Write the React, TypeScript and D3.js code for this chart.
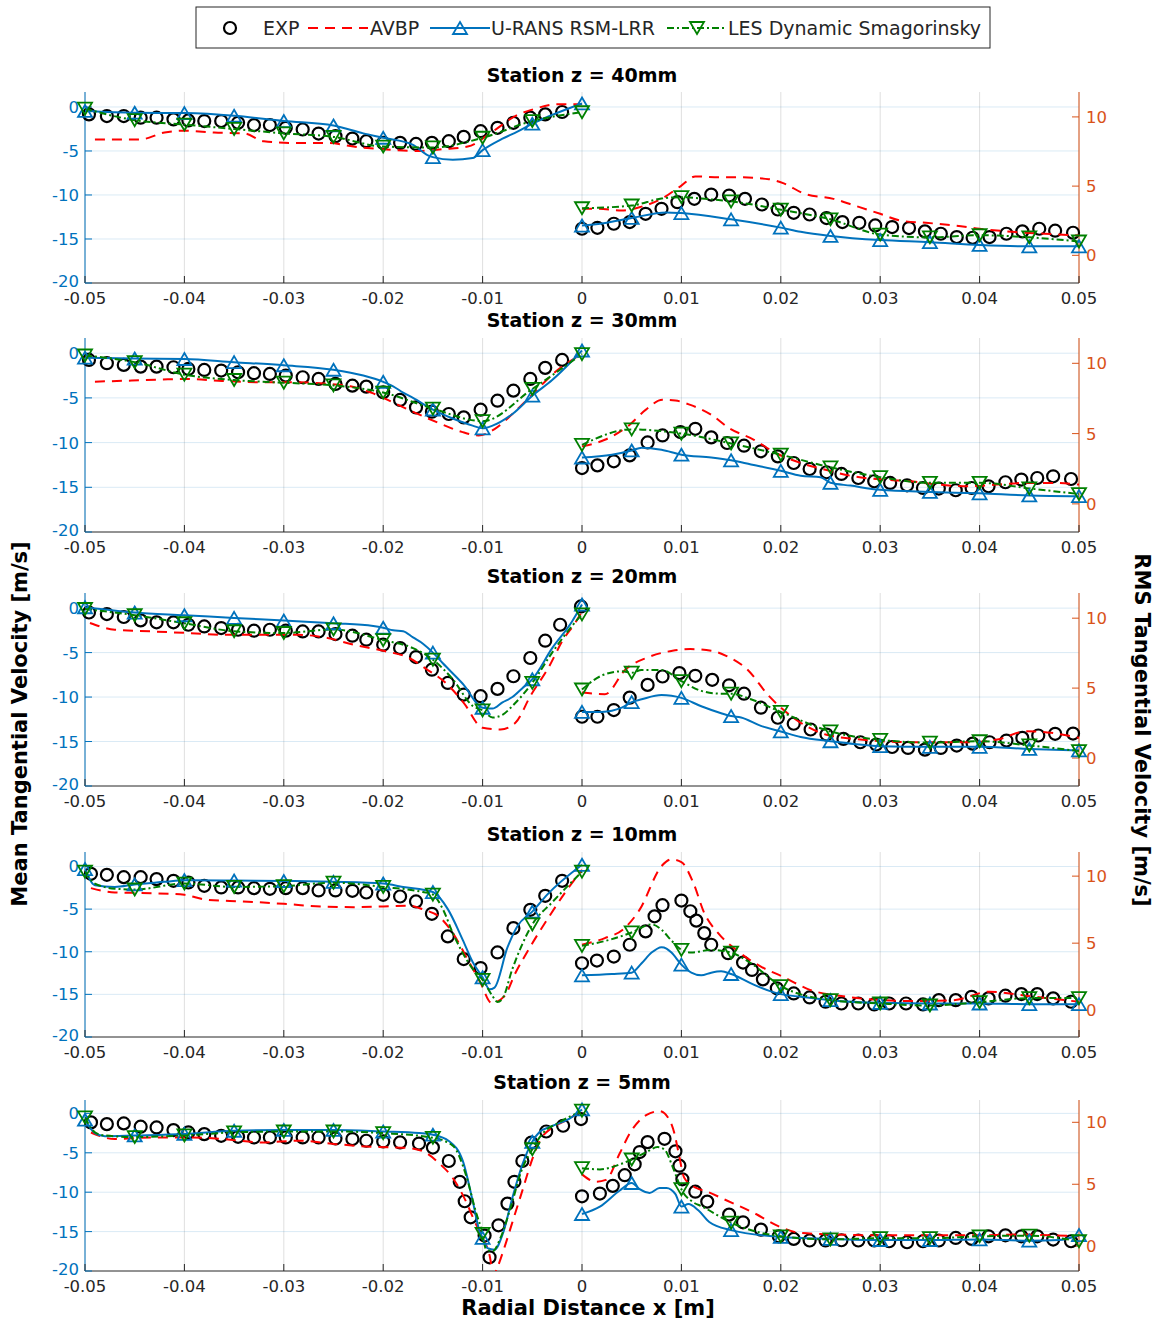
import React from 'react';
import * as d3 from 'd3';

type P = [number, number];

// ---------- ticks / labels ----------
const X_TICKS = [-0.05, -0.04, -0.03, -0.02, -0.01, 0, 0.01, 0.02, 0.03, 0.04, 0.05];
const LEFT_TICKS = [0, -5, -10, -15, -20];
const RIGHT_TICKS = [0, 5, 10];
const STATIONS = ['Station z = 40mm', 'Station z = 30mm', 'Station z = 20mm', 'Station z = 10mm', 'Station z = 5mm'];
const SERIES_NAMES = ['EXP', 'AVBP', 'U-RANS RSM-LRR', 'LES Dynamic Smagorinsky'];

// ---------- Station z = 40mm ----------
const Z40_EXP_MEAN: P[] = [[-0.0496,-0.84],[-0.0478,-1.03],[-0.0461,-1.03],[-0.0444,-1.22],[-0.0428,-1.22],[-0.0411,-1.41],[-0.0396,-1.53],[-0.038,-1.6],[-0.0363,-1.6],[-0.0346,-1.8],[-0.033,-2.06],[-0.0314,-2.06],[-0.0298,-2.37],[-0.0281,-2.56],[-0.0265,-3.02],[-0.0248,-3.32],[-0.0231,-3.59],[-0.0217,-3.89],[-0.02,-4.08],[-0.0183,-4.08],[-0.0167,-4.2],[-0.0151,-4.08],[-0.0134,-3.89],[-0.0119,-3.4],[-0.0102,-2.75],[-0.0085,-2.37],[-0.0069,-1.8],[-0.0052,-1.22],[-0.0037,-0.84],[-0.002,-0.57]];
const Z40_EXP_RMS: P[] = [[0,1.92],[0.00155,1.99],[0.0032,2.28],[0.0048,2.4],[0.0064,3.0],[0.008,3.36],[0.0096,3.84],[0.0113,4.08],[0.013,4.39],[0.0148,4.32],[0.0164,4.08],[0.0181,3.67],[0.0197,3.31],[0.0213,3.07],[0.0229,2.95],[0.0246,2.69],[0.0262,2.4],[0.0279,2.35],[0.0295,2.16],[0.0312,2.04],[0.0329,1.97],[0.0345,1.73],[0.0361,1.56],[0.0377,1.32],[0.0393,1.27],[0.041,1.32],[0.0427,1.56],[0.0443,1.73],[0.046,1.92],[0.0476,1.78],[0.0494,1.63]];
const Z40_AVBP_MEAN: P[] = [[-0.049,-3.7],[-0.0445,-3.7],[-0.042,-2.9],[-0.04,-2.7],[-0.037,-2.9],[-0.034,-3.0],[-0.032,-3.9],[-0.029,-4.1],[-0.0255,-4.1],[-0.023,-4.5],[-0.02,-4.8],[-0.0165,-5.0],[-0.014,-4.8],[-0.0115,-4.5],[-0.009,-2.8],[-0.0065,-0.9],[-0.005,-0.3],[-0.0025,0.3],[0,0.3]];
const Z40_AVBP_RMS: P[] = [[0,3.36],[0.0015,3.36],[0.004,3.24],[0.0059,3.5],[0.008,4.08],[0.01,5.04],[0.0114,5.7],[0.0138,5.64],[0.0159,5.64],[0.0188,5.5],[0.0203,5.2],[0.0224,4.44],[0.0253,4.08],[0.0274,3.6],[0.03,3.0],[0.0321,2.5],[0.0346,2.35],[0.0375,2.16],[0.04,1.92],[0.0436,1.68],[0.0465,1.56],[0.05,1.44]];
const Z40_URANS_MEAN: P[] = [[-0.05,-0.45],[-0.045,-0.65],[-0.04,-0.7],[-0.035,-1.0],[-0.03,-1.6],[-0.025,-2.1],[-0.022,-3.0],[-0.02,-3.5],[-0.017,-4.3],[-0.0155,-5.5],[-0.015,-5.7],[-0.013,-6.0],[-0.011,-5.8],[-0.01,-4.9],[-0.008,-3.6],[-0.0065,-2.8],[-0.005,-1.9],[-0.003,-0.9],[0,0.4]];
const Z40_URANS_RMS: P[] = [[0,2.15],[0.002,2.3],[0.005,2.7],[0.0085,3.1],[0.01,3.05],[0.015,2.6],[0.02,2.0],[0.022,1.7],[0.025,1.4],[0.03,1.1],[0.035,0.95],[0.04,0.75],[0.045,0.65],[0.05,0.65]];
const Z40_LES_MEAN: P[] = [[-0.05,-0.2],[-0.045,-1.5],[-0.04,-2.0],[-0.035,-2.5],[-0.03,-3.0],[-0.025,-3.4],[-0.02,-4.5],[-0.015,-4.6],[-0.01,-3.5],[-0.005,-1.6],[0,-0.6]];
const Z40_LES_RMS: P[] = [[0,3.4],[0.005,3.6],[0.008,4.1],[0.01,4.2],[0.012,4.1],[0.015,3.9],[0.02,3.3],[0.025,2.6],[0.03,1.5],[0.035,1.3],[0.04,1.45],[0.045,1.3],[0.05,1.0]];

// ---------- Station z = 30mm ----------
const Z30_EXP_MEAN: P[] = [[-0.0496,-0.75],[-0.0478,-1.12],[-0.0461,-1.31],[-0.0444,-1.5],[-0.0428,-1.5],[-0.0411,-1.57],[-0.0396,-1.76],[-0.038,-1.87],[-0.0363,-1.94],[-0.0346,-2.13],[-0.033,-2.24],[-0.0314,-2.32],[-0.0298,-2.5],[-0.0281,-2.69],[-0.0265,-2.88],[-0.0248,-3.44],[-0.0231,-3.63],[-0.0217,-3.74],[-0.02,-4.37],[-0.0183,-5.23],[-0.0167,-6.06],[-0.0151,-6.54],[-0.0134,-6.8],[-0.0119,-7.18],[-0.0102,-6.32],[-0.0085,-5.31],[-0.0069,-4.19],[-0.0052,-2.88],[-0.0037,-1.64],[-0.002,-0.75]];
const Z30_EXP_RMS: P[] = [[0,2.55],[0.00155,2.74],[0.0032,3.03],[0.0048,3.45],[0.0066,4.37],[0.0081,4.87],[0.0099,5.11],[0.0114,5.34],[0.013,4.73],[0.0146,4.33],[0.0163,4.14],[0.018,3.74],[0.0197,3.38],[0.0213,2.91],[0.0229,2.48],[0.0246,2.25],[0.0261,2.13],[0.0278,1.84],[0.0294,1.61],[0.031,1.49],[0.0327,1.32],[0.0343,1.13],[0.0359,1.09],[0.0376,0.97],[0.0392,1.13],[0.0409,1.25],[0.0426,1.54],[0.0442,1.73],[0.0458,1.84],[0.0474,1.96],[0.0492,1.77]];
const Z30_AVBP_MEAN: P[] = [[-0.049,-3.18],[-0.0453,-3.06],[-0.0424,-2.95],[-0.0399,-2.88],[-0.0362,-3.1],[-0.0325,-3.25],[-0.0288,-3.25],[-0.0259,-3.4],[-0.0233,-3.7],[-0.021,-4.5],[-0.0196,-5.2],[-0.0177,-6.2],[-0.0159,-7.1],[-0.014,-8.0],[-0.0121,-8.8],[-0.0104,-9.2],[-0.0088,-8.5],[-0.007,-6.8],[-0.0051,-4.75],[-0.0029,-2.3],[0,-0.07]];
const Z30_AVBP_RMS: P[] = [[0,4.09],[0.0023,4.56],[0.0048,5.63],[0.0064,6.69],[0.0081,7.4],[0.0094,7.35],[0.0109,7.04],[0.013,6.34],[0.0148,5.39],[0.0173,4.56],[0.0195,3.62],[0.022,2.91],[0.0245,2.43],[0.0273,1.96],[0.0302,1.73],[0.033,1.61],[0.0359,1.37],[0.0388,1.25],[0.0417,1.37],[0.0446,1.49],[0.0474,1.49],[0.05,1.37]];
const Z30_URANS_MEAN: P[] = [[-0.05,-0.5],[-0.045,-0.6],[-0.04,-0.65],[-0.035,-1.0],[-0.03,-1.35],[-0.025,-1.85],[-0.022,-2.5],[-0.02,-3.2],[-0.019,-3.7],[-0.018,-4.4],[-0.017,-5.0],[-0.015,-6.3],[-0.013,-7.3],[-0.011,-8.1],[-0.01,-8.4],[-0.009,-8.1],[-0.007,-6.8],[-0.005,-4.75],[-0.003,-3.0],[0,0.3]];
const Z30_URANS_RMS: P[] = [[0,3.3],[0.003,3.5],[0.005,3.8],[0.006,4.0],[0.008,3.85],[0.01,3.5],[0.013,3.3],[0.015,3.1],[0.017,2.8],[0.02,2.35],[0.022,2.0],[0.024,1.9],[0.025,1.5],[0.027,1.3],[0.03,1.0],[0.035,0.85],[0.04,0.75],[0.045,0.6],[0.05,0.55]];
const Z30_LES_MEAN: P[] = [[-0.05,-0.26],[-0.045,-1.0],[-0.04,-2.4],[-0.035,-3.0],[-0.03,-3.3],[-0.025,-3.6],[-0.02,-4.4],[-0.015,-6.2],[-0.01,-7.6],[-0.005,-4.0],[0,-0.1]];
const Z30_LES_RMS: P[] = [[0,4.2],[0.005,5.3],[0.01,5.0],[0.015,4.3],[0.02,3.5],[0.025,2.6],[0.03,1.9],[0.035,1.5],[0.04,1.5],[0.045,1.1],[0.05,0.7]];

// ---------- Station z = 20mm ----------
const Z20_EXP_MEAN: P[] = [[-0.0496,-0.49],[-0.0478,-0.67],[-0.0461,-1.0],[-0.0444,-1.38],[-0.0428,-1.6],[-0.0411,-1.6],[-0.0396,-1.87],[-0.038,-2.06],[-0.0363,-2.24],[-0.0346,-2.43],[-0.033,-2.54],[-0.0314,-2.43],[-0.0298,-2.54],[-0.0281,-2.62],[-0.0265,-2.62],[-0.0248,-2.92],[-0.0231,-3.1],[-0.0217,-3.55],[-0.02,-4.11],[-0.0183,-4.49],[-0.0167,-5.5],[-0.0151,-6.92],[-0.0135,-8.41],[-0.0119,-9.72],[-0.0102,-9.9],[-0.0085,-9.08],[-0.0069,-7.66],[-0.0052,-5.61],[-0.0037,-3.66],[-0.0022,-1.87],[-0.0001,0.19]];
const Z20_EXP_RMS: P[] = [[0,2.95],[0.00155,2.95],[0.0032,3.43],[0.0048,4.32],[0.0066,5.23],[0.0081,5.83],[0.0098,6.07],[0.0114,5.88],[0.0131,5.59],[0.0148,5.2],[0.0163,4.6],[0.018,3.6],[0.0197,2.88],[0.0213,2.45],[0.023,2.04],[0.0246,1.68],[0.0263,1.37],[0.028,1.13],[0.0296,0.96],[0.0312,0.79],[0.0328,0.72],[0.0345,0.6],[0.0361,0.72],[0.0377,0.89],[0.0393,1.03],[0.041,1.13],[0.0427,1.25],[0.0443,1.44],[0.0459,1.61],[0.0476,1.73],[0.0494,1.75]];
const Z20_AVBP_MEAN: P[] = [[-0.0495,-1.68],[-0.047,-2.43],[-0.0433,-2.62],[-0.0396,-2.8],[-0.036,-3.0],[-0.0322,-3.0],[-0.0285,-3.0],[-0.0256,-3.36],[-0.023,-4.1],[-0.02,-4.8],[-0.0174,-5.6],[-0.0156,-6.9],[-0.0137,-8.41],[-0.0119,-10.65],[-0.01,-13.46],[-0.0082,-13.64],[-0.0067,-12.9],[-0.0052,-9.9],[-0.0033,-6.54],[-0.0019,-3.55],[-0.0007,-1.68],[0,-0.37]];
const Z20_AVBP_RMS: P[] = [[0,4.68],[0.0023,4.56],[0.0044,6.35],[0.0066,7.19],[0.0091,7.67],[0.0109,7.79],[0.013,7.67],[0.0145,7.31],[0.0166,6.35],[0.0188,4.44],[0.0202,3.48],[0.022,2.52],[0.0245,1.68],[0.0274,1.37],[0.0302,1.2],[0.0332,1.13],[0.0361,1.13],[0.039,1.13],[0.0418,1.32],[0.0447,1.92],[0.0472,1.8],[0.05,1.44]];
const Z20_URANS_MEAN: P[] = [[-0.05,0.1],[-0.045,-0.5],[-0.04,-0.8],[-0.035,-1.1],[-0.03,-1.4],[-0.025,-1.7],[-0.021,-2.0],[-0.02,-2.2],[-0.019,-2.5],[-0.018,-2.6],[-0.017,-3.3],[-0.016,-4.0],[-0.015,-5.0],[-0.014,-6.2],[-0.012,-8.5],[-0.01,-11.2],[-0.009,-11.3],[-0.008,-10.6],[-0.007,-10.0],[-0.006,-9.0],[-0.005,-8.0],[-0.003,-4.5],[-0.001,-1.5],[0,0.4]];
const Z20_URANS_RMS: P[] = [[0,3.3],[0.002,3.3],[0.004,3.6],[0.005,4.0],[0.006,4.2],[0.008,4.5],[0.009,4.45],[0.01,4.3],[0.012,3.7],[0.014,3.2],[0.015,3.0],[0.016,2.9],[0.018,2.3],[0.02,1.9],[0.022,1.5],[0.025,1.2],[0.03,0.85],[0.035,0.8],[0.04,0.8],[0.045,0.65],[0.05,0.55]];
const Z20_LES_MEAN: P[] = [[-0.05,-0.1],[-0.045,-0.8],[-0.04,-1.7],[-0.035,-2.6],[-0.03,-2.8],[-0.025,-2.4],[-0.02,-3.6],[-0.017,-4.5],[-0.015,-5.8],[-0.013,-8.0],[-0.011,-11.0],[-0.01,-11.5],[-0.009,-12.3],[-0.008,-12.0],[-0.007,-11.0],[-0.005,-8.4],[-0.003,-5.0],[-0.001,-2.0],[0,-0.7]];
const Z20_LES_RMS: P[] = [[0,4.9],[0.002,5.9],[0.004,6.2],[0.005,6.1],[0.006,6.3],[0.008,6.3],[0.01,5.5],[0.012,4.8],[0.014,4.6],[0.015,4.6],[0.017,4.2],[0.02,3.3],[0.025,1.9],[0.03,1.3],[0.035,1.1],[0.04,1.2],[0.045,0.9],[0.05,0.5]];

// ---------- Station z = 10mm ----------
const Z10_EXP_MEAN: P[] = [[-0.0494,-0.86],[-0.0478,-0.98],[-0.0461,-1.25],[-0.0444,-1.25],[-0.0428,-1.48],[-0.0411,-1.68],[-0.0396,-1.88],[-0.038,-2.27],[-0.0363,-2.46],[-0.0346,-2.46],[-0.033,-2.54],[-0.0314,-2.62],[-0.0298,-2.54],[-0.0281,-2.54],[-0.0265,-2.81],[-0.0248,-2.81],[-0.0231,-2.85],[-0.0217,-3.05],[-0.02,-3.32],[-0.0183,-3.52],[-0.0167,-4.1],[-0.0151,-5.55],[-0.0135,-8.2],[-0.0119,-10.86],[-0.0102,-11.91],[-0.0085,-10.08],[-0.0069,-7.23],[-0.0052,-5.08],[-0.0037,-3.44],[-0.002,-1.68]];
const Z10_EXP_RMS: P[] = [[0,3.5],[0.0015,3.7],[0.0032,4.0],[0.0048,4.88],[0.0064,5.88],[0.0073,7.0],[0.0081,7.83],[0.01,8.18],[0.0109,7.38],[0.0115,6.68],[0.0123,5.75],[0.013,4.88],[0.0147,4.25],[0.0162,3.55],[0.0171,3.0],[0.0182,2.3],[0.0196,1.63],[0.0213,1.25],[0.0229,0.95],[0.0245,0.63],[0.0261,0.5],[0.0278,0.5],[0.0294,0.43],[0.0309,0.5],[0.0326,0.5],[0.0343,0.43],[0.0359,0.75],[0.0376,0.75],[0.0392,1.0],[0.0409,0.88],[0.0426,1.08],[0.0442,1.2],[0.0458,1.2],[0.0474,0.88],[0.0492,0.63]];
const Z10_AVBP_MEAN: P[] = [[-0.0494,-2.54],[-0.047,-3.05],[-0.0433,-3.13],[-0.04,-3.32],[-0.0378,-3.9],[-0.0341,-4.1],[-0.03,-4.38],[-0.0263,-4.69],[-0.023,-4.77],[-0.02,-4.69],[-0.0174,-4.6],[-0.0159,-5.08],[-0.0144,-5.86],[-0.013,-7.8],[-0.0115,-10.9],[-0.0102,-13.67],[-0.0091,-16.0],[-0.0078,-15.2],[-0.0067,-12.5],[-0.0052,-9.4],[-0.0033,-5.86],[-0.0015,-2.73],[0,-0.39]];
const Z10_AVBP_RMS: P[] = [[0,4.88],[0.0023,5.38],[0.0041,6.0],[0.0058,7.5],[0.008,10.75],[0.009,11.25],[0.01,11.05],[0.0112,9.5],[0.0123,7.25],[0.0137,5.75],[0.0155,4.5],[0.018,3.25],[0.0202,2.5],[0.023,1.5],[0.0266,1.0],[0.0302,0.75],[0.0338,0.68],[0.0374,0.75],[0.041,1.38],[0.0446,1.08],[0.05,0.63]];
const Z10_URANS_MEAN: P[] = [[-0.05,-0.3],[-0.049,-2.2],[-0.047,-2.4],[-0.045,-2.1],[-0.042,-1.8],[-0.04,-1.6],[-0.035,-1.65],[-0.03,-1.7],[-0.025,-1.8],[-0.02,-2.0],[-0.018,-2.4],[-0.015,-3.0],[-0.0135,-5.0],[-0.012,-8.6],[-0.011,-11.2],[-0.01,-13.0],[-0.0093,-14.4],[-0.0088,-14.2],[-0.0075,-9.5],[-0.0065,-7.0],[-0.005,-5.3],[-0.0035,-3.3],[0,0.2]];
const Z10_URANS_RMS: P[] = [[0,2.6],[0.003,2.7],[0.005,2.8],[0.006,3.5],[0.007,4.3],[0.008,4.7],[0.0085,4.6],[0.009,4.3],[0.01,3.4],[0.011,2.8],[0.012,2.6],[0.013,2.8],[0.014,2.9],[0.015,2.7],[0.017,2.0],[0.019,1.4],[0.02,1.2],[0.022,1.0],[0.025,0.75],[0.03,0.55],[0.035,0.5],[0.04,0.5],[0.045,0.45],[0.05,0.45]];
const Z10_LES_MEAN: P[] = [[-0.05,-0.6],[-0.049,-2.0],[-0.047,-2.6],[-0.045,-2.7],[-0.04,-2.0],[-0.035,-2.4],[-0.03,-2.3],[-0.025,-1.9],[-0.02,-2.4],[-0.016,-3.0],[-0.015,-3.3],[-0.014,-5.0],[-0.013,-7.8],[-0.011,-12.0],[-0.01,-13.3],[-0.009,-15.2],[-0.0085,-15.9],[-0.008,-15.5],[-0.007,-12.0],[-0.005,-6.8],[-0.003,-4.2],[0,-0.6]];
const Z10_LES_RMS: P[] = [[0,4.8],[0.003,5.3],[0.005,5.8],[0.007,6.4],[0.008,6.0],[0.009,5.2],[0.01,4.5],[0.011,4.3],[0.013,4.5],[0.015,4.3],[0.017,3.5],[0.02,1.8],[0.025,0.75],[0.03,0.5],[0.035,0.35],[0.04,0.6],[0.045,0.9],[0.05,0.9]];

// ---------- Station z = 5mm ----------
const Z5_EXP_MEAN: P[] = [[-0.0494,-1.14],[-0.0478,-1.36],[-0.0461,-1.27],[-0.0444,-1.69],[-0.0428,-1.78],[-0.0411,-2.12],[-0.0396,-2.42],[-0.038,-2.63],[-0.0363,-2.84],[-0.0346,-2.97],[-0.033,-3.05],[-0.0314,-3.05],[-0.0298,-3.05],[-0.0281,-3.05],[-0.0265,-3.05],[-0.0248,-3.18],[-0.0231,-3.26],[-0.0217,-3.47],[-0.02,-3.56],[-0.0183,-3.69],[-0.0164,-3.83],[-0.015,-4.34],[-0.0134,-6.04],[-0.0123,-8.68],[-0.0118,-11.15],[-0.0112,-13.19],[-0.0098,-15.5],[-0.0093,-18.26],[-0.0084,-14.2],[-0.0075,-11.45],[-0.0068,-8.68],[-0.006,-6.04],[-0.0051,-3.7],[-0.0036,-2.3],[-0.0019,-1.57],[-0.0001,-0.72]];
const Z5_EXP_RMS: P[] = [[0,4.03],[0.0018,4.25],[0.0031,4.87],[0.0043,5.73],[0.0053,6.61],[0.0058,7.6],[0.0066,8.4],[0.0083,8.67],[0.0094,7.66],[0.0098,6.5],[0.0101,5.4],[0.0114,4.4],[0.0126,3.6],[0.0148,2.55],[0.0162,1.93],[0.018,1.34],[0.0198,0.8],[0.0213,0.59],[0.0229,0.46],[0.0245,0.46],[0.0261,0.48],[0.0278,0.46],[0.0294,0.46],[0.0309,0.4],[0.0327,0.32],[0.0343,0.4],[0.0359,0.46],[0.0376,0.67],[0.0392,0.59],[0.0409,0.8],[0.0426,0.88],[0.0442,0.8],[0.0458,0.8],[0.0474,0.54],[0.0492,0.4]];
const Z5_AVBP_MEAN: P[] = [[-0.0494,-2.42],[-0.047,-3.26],[-0.0433,-3.05],[-0.0396,-3.05],[-0.036,-3.26],[-0.0322,-3.69],[-0.0285,-3.47],[-0.0248,-3.9],[-0.0211,-4.24],[-0.0174,-4.4],[-0.0157,-5.0],[-0.0144,-6.3],[-0.013,-8.2],[-0.0117,-11.1],[-0.0108,-13.7],[-0.01,-15.8],[-0.0093,-18.0],[-0.0089,-20.5],[-0.0085,-19.5],[-0.0078,-17.0],[-0.007,-13.8],[-0.006,-9.8],[-0.005,-5.8],[-0.0043,-3.6],[-0.003,-1.8],[-0.0016,-0.9],[0,0.4]];
const Z5_AVBP_RMS: P[] = [[0,5.8],[0.0014,5.2],[0.0024,5.35],[0.0038,7.5],[0.0048,9.1],[0.0065,10.6],[0.0078,10.9],[0.0088,10.2],[0.0093,9.1],[0.0097,7.6],[0.0103,5.5],[0.0115,4.7],[0.0126,4.4],[0.0144,3.75],[0.0173,2.68],[0.0198,1.6],[0.022,1.07],[0.0256,0.94],[0.0292,0.88],[0.0328,0.88],[0.0363,0.88],[0.0399,0.88],[0.0435,0.94],[0.05,0.8]];
const Z5_URANS_MEAN: P[] = [[-0.05,-0.8],[-0.049,-2.5],[-0.048,-2.9],[-0.045,-2.8],[-0.04,-2.6],[-0.035,-2.2],[-0.03,-2.1],[-0.025,-2.1],[-0.02,-2.3],[-0.0164,-2.5],[-0.015,-2.7],[-0.0134,-3.5],[-0.012,-6.0],[-0.011,-11.1],[-0.0103,-15.0],[-0.01,-15.8],[-0.0095,-17.1],[-0.0088,-17.3],[-0.008,-15.4],[-0.007,-10.7],[-0.006,-6.5],[-0.005,-3.6],[-0.0043,-2.4],[-0.003,-1.6],[-0.0013,-0.7],[0,0.5]];
const Z5_URANS_RMS: P[] = [[0,2.6],[0.0018,3.2],[0.0038,4.5],[0.005,5.1],[0.0058,4.6],[0.0068,4.3],[0.0078,4.7],[0.0085,4.7],[0.0094,4.2],[0.01,3.2],[0.0107,3.4],[0.0117,2.9],[0.0128,1.96],[0.015,1.3],[0.02,0.75],[0.025,0.6],[0.03,0.5],[0.035,0.5],[0.04,0.55],[0.045,0.45],[0.048,0.5],[0.05,0.9]];
const Z5_LES_MEAN: P[] = [[-0.05,-0.5],[-0.049,-2.4],[-0.048,-2.8],[-0.045,-3.0],[-0.04,-2.8],[-0.035,-2.4],[-0.03,-2.3],[-0.025,-2.3],[-0.02,-2.5],[-0.015,-3.1],[-0.013,-4.1],[-0.0117,-7.7],[-0.0107,-12.4],[-0.01,-15.3],[-0.0097,-17.1],[-0.009,-17.5],[-0.0082,-15.8],[-0.0071,-11.6],[-0.0061,-7.3],[-0.005,-4.55],[-0.004,-2.6],[-0.0023,-1.15],[0,0.35]];
const Z5_LES_RMS: P[] = [[0,6.3],[0.0018,6.2],[0.0038,6.6],[0.005,7.0],[0.0065,7.6],[0.0076,8.0],[0.0083,7.8],[0.0091,6.45],[0.0096,5.4],[0.01,4.6],[0.0111,3.6],[0.0121,3.2],[0.015,1.9],[0.02,0.8],[0.025,0.55],[0.03,0.65],[0.035,0.65],[0.04,0.8],[0.045,0.85],[0.05,0.4]];

const PANELS = [
  { expMean: Z40_EXP_MEAN, expRms: Z40_EXP_RMS, avbpMean: Z40_AVBP_MEAN, avbpRms: Z40_AVBP_RMS, uransMean: Z40_URANS_MEAN, uransRms: Z40_URANS_RMS, lesMean: Z40_LES_MEAN, lesRms: Z40_LES_RMS },
  { expMean: Z30_EXP_MEAN, expRms: Z30_EXP_RMS, avbpMean: Z30_AVBP_MEAN, avbpRms: Z30_AVBP_RMS, uransMean: Z30_URANS_MEAN, uransRms: Z30_URANS_RMS, lesMean: Z30_LES_MEAN, lesRms: Z30_LES_RMS },
  { expMean: Z20_EXP_MEAN, expRms: Z20_EXP_RMS, avbpMean: Z20_AVBP_MEAN, avbpRms: Z20_AVBP_RMS, uransMean: Z20_URANS_MEAN, uransRms: Z20_URANS_RMS, lesMean: Z20_LES_MEAN, lesRms: Z20_LES_RMS },
  { expMean: Z10_EXP_MEAN, expRms: Z10_EXP_RMS, avbpMean: Z10_AVBP_MEAN, avbpRms: Z10_AVBP_RMS, uransMean: Z10_URANS_MEAN, uransRms: Z10_URANS_RMS, lesMean: Z10_LES_MEAN, lesRms: Z10_LES_RMS },
  { expMean: Z5_EXP_MEAN, expRms: Z5_EXP_RMS, avbpMean: Z5_AVBP_MEAN, avbpRms: Z5_AVBP_RMS, uransMean: Z5_URANS_MEAN, uransRms: Z5_URANS_RMS, lesMean: Z5_LES_MEAN, lesRms: Z5_LES_RMS },
];

// ---------- layout & style ----------
const W = 1157, H = 1319;
const PLOT_L = 85, PLOT_R = 1079;
const BOXES: [number, number][] = [[92, 283], [338, 532], [593, 786], [852, 1037], [1100, 1271]];
const TITLE_Y = [75, 320, 576, 834, 1082];
const LEFT_DOMAIN: [number, number] = [-20, 1.7];
const RIGHT_DOMAIN: [number, number] = [-2, 11.8];
const FONT = 'DejaVu Sans, Verdana, sans-serif';
const C_BLUE = '#0072BD', C_ORANGE = '#D95319', C_RED = '#FF0000', C_GREEN = '#008000', C_TXT = '#262626';
const DASH_AVBP = '10,7';
const DASH_LES = '7,3,2,3';
const TRI_UP = 'M0,-6 L7,6 L-7,6 Z';
const TRI_DOWN = 'M0,6 L7,-6 L-7,-6 Z';

const isMarkerX = (v: number) => Math.abs(v * 200 - Math.round(v * 200)) < 1e-6;
const fmtTick = (v: number) => String(+v.toFixed(2)); // hyphen-minus like the reference

function Panel({ i }: { i: number }) {
  const d = PANELS[i];
  const [top, bottom] = BOXES[i];
  const x = d3.scaleLinear().domain([-0.05, 0.05]).range([PLOT_L, PLOT_R]);
  const yL = d3.scaleLinear().domain(LEFT_DOMAIN).range([bottom, top]);
  const yR = d3.scaleLinear().domain(RIGHT_DOMAIN).range([bottom, top]);
  const lineL = d3.line<P>().x(p => x(p[0])).y(p => yL(p[1])).curve(d3.curveMonotoneX);
  const lineR = d3.line<P>().x(p => x(p[0])).y(p => yR(p[1])).curve(d3.curveMonotoneX);
  const clipId = `clip${i}`;
  return (
    <g>
      <defs>
        <clipPath id={clipId}>
          <rect x={PLOT_L} y={top} width={PLOT_R - PLOT_L} height={bottom - top} />
        </clipPath>
      </defs>
      {/* grid */}
      {X_TICKS.map(t => (
        <line key={'vg' + t} x1={x(t)} x2={x(t)} y1={top} y2={bottom} stroke={C_TXT} strokeOpacity={0.15} strokeWidth={1} />
      ))}
      {LEFT_TICKS.filter(t => t > -20).map(t => (
        <line key={'hg' + t} x1={PLOT_L} x2={PLOT_R} y1={yL(t)} y2={yL(t)} stroke={C_BLUE} strokeOpacity={0.15} strokeWidth={1} />
      ))}
      {/* axes */}
      <line x1={PLOT_L} x2={PLOT_R} y1={bottom} y2={bottom} stroke={C_TXT} strokeWidth={1} />
      <line x1={PLOT_L} x2={PLOT_L} y1={top} y2={bottom} stroke={C_BLUE} strokeWidth={1} />
      <line x1={PLOT_R} x2={PLOT_R} y1={top} y2={bottom} stroke={C_ORANGE} strokeWidth={1} />
      {X_TICKS.map(t => (
        <g key={'xt' + t}>
          <line x1={x(t)} x2={x(t)} y1={bottom} y2={bottom - 7} stroke={C_TXT} strokeWidth={1} />
          <text x={x(t)} y={bottom + 21} textAnchor="middle" fontSize={16.5} fill={C_TXT} fontFamily={FONT}>{fmtTick(t)}</text>
        </g>
      ))}
      {LEFT_TICKS.map(t => (
        <g key={'lt' + t}>
          <line x1={PLOT_L} x2={PLOT_L + 7} y1={yL(t)} y2={yL(t)} stroke={C_BLUE} strokeWidth={1} />
          <text x={PLOT_L - 6} y={yL(t) + (t === -20 ? 4 : 6)} textAnchor="end" fontSize={16.5} fill={C_BLUE} fontFamily={FONT}>{fmtTick(t)}</text>
        </g>
      ))}
      {RIGHT_TICKS.map(t => (
        <g key={'rt' + t}>
          <line x1={PLOT_R} x2={PLOT_R - 7} y1={yR(t)} y2={yR(t)} stroke={C_ORANGE} strokeWidth={1} />
          <text x={PLOT_R + 7} y={yR(t) + 6} textAnchor="start" fontSize={16.5} fill={C_ORANGE} fontFamily={FONT}>{fmtTick(t)}</text>
        </g>
      ))}
      <text x={(PLOT_L + PLOT_R) / 2} y={TITLE_Y[i] + 7} textAnchor="middle" fontSize={19} fontWeight="bold" fill="#000" fontFamily={FONT}>{STATIONS[i]}</text>

      {/* EXP */}
      {d.expMean.map((p, k) => (
        <circle key={'em' + k} cx={x(p[0])} cy={yL(p[1])} r={6} fill="none" stroke="#000" strokeWidth={2.2} />
      ))}
      {d.expRms.map((p, k) => (
        <circle key={'er' + k} cx={x(p[0])} cy={yR(p[1])} r={6} fill="none" stroke="#000" strokeWidth={2.2} />
      ))}
      {/* lines */}
      <g clipPath={`url(#${clipId})`}>
        <path d={lineL(d.avbpMean) || ''} fill="none" stroke={C_RED} strokeWidth={2} strokeDasharray={DASH_AVBP} />
        <path d={lineR(d.avbpRms) || ''} fill="none" stroke={C_RED} strokeWidth={2} strokeDasharray={DASH_AVBP} />
        <path d={lineL(d.uransMean) || ''} fill="none" stroke={C_BLUE} strokeWidth={2} />
        <path d={lineR(d.uransRms) || ''} fill="none" stroke={C_BLUE} strokeWidth={2} />
        <path d={lineL(d.lesMean) || ''} fill="none" stroke={C_GREEN} strokeWidth={2} strokeDasharray={DASH_LES} />
        <path d={lineR(d.lesRms) || ''} fill="none" stroke={C_GREEN} strokeWidth={2} strokeDasharray={DASH_LES} />
      </g>
      {d.uransMean.filter(p => isMarkerX(p[0])).map((p, k) => (
        <path key={'um' + k} d={TRI_UP} transform={`translate(${x(p[0])},${yL(p[1])})`} fill="none" stroke={C_BLUE} strokeWidth={1.8} />
      ))}
      {d.uransRms.filter(p => isMarkerX(p[0])).map((p, k) => (
        <path key={'ur' + k} d={TRI_UP} transform={`translate(${x(p[0])},${yR(p[1])})`} fill="none" stroke={C_BLUE} strokeWidth={1.8} />
      ))}
      {d.lesMean.filter(p => isMarkerX(p[0])).map((p, k) => (
        <path key={'lm' + k} d={TRI_DOWN} transform={`translate(${x(p[0])},${yL(p[1])})`} fill="none" stroke={C_GREEN} strokeWidth={1.8} />
      ))}
      {d.lesRms.filter(p => isMarkerX(p[0])).map((p, k) => (
        <path key={'lr' + k} d={TRI_DOWN} transform={`translate(${x(p[0])},${yR(p[1])})`} fill="none" stroke={C_GREEN} strokeWidth={1.8} />
      ))}
    </g>
  );
}

function Legend() {
  const y = 28;
  return (
    <g fontFamily={FONT} fontSize={19} fill={C_TXT}>
      <rect x={196} y={7} width={794} height={41} fill="#fff" stroke={C_TXT} strokeWidth={1} />
      <circle cx={230} cy={y} r={6} fill="none" stroke="#000" strokeWidth={2.2} />
      <text x={263} y={y + 7}>{SERIES_NAMES[0]}</text>
      <line x1={308} x2={368} y1={y} y2={y} stroke={C_RED} strokeWidth={2} strokeDasharray={DASH_AVBP} />
      <text x={370} y={y + 7}>{SERIES_NAMES[1]}</text>
      <line x1={430} x2={490} y1={y} y2={y} stroke={C_BLUE} strokeWidth={2} />
      <path d={TRI_UP} transform={`translate(460,${y})`} fill="none" stroke={C_BLUE} strokeWidth={1.8} />
      <text x={491} y={y + 7}>{SERIES_NAMES[2]}</text>
      <line x1={667} x2={727} y1={y} y2={y} stroke={C_GREEN} strokeWidth={2} strokeDasharray={DASH_LES} />
      <path d={TRI_DOWN} transform={`translate(697,${y})`} fill="none" stroke={C_GREEN} strokeWidth={1.8} />
      <text x={728} y={y + 7}>{SERIES_NAMES[3]}</text>
    </g>
  );
}

export default function App() {
  return (
    <svg width={W} height={H} viewBox={`0 0 ${W} ${H}`} style={{ position: 'absolute', left: 0, top: 0, background: '#fff' }}>
      <rect x={0} y={0} width={W} height={H} fill="#fff" />
      <Legend />
      {PANELS.map((_, i) => <Panel key={i} i={i} />)}
      <text transform="translate(20,724) rotate(-90)" textAnchor="middle" dominantBaseline="central" fontSize={21} fontWeight="bold" fill="#000" fontFamily={FONT}>Mean Tangential Velocity [m/s]</text>
      <text transform="translate(1142,730) rotate(90)" textAnchor="middle" dominantBaseline="central" fontSize={21} fontWeight="bold" fill="#000" fontFamily={FONT}>RMS Tangential Velocity [m/s]</text>
      <text x={588} y={1308} textAnchor="middle" dominantBaseline="central" fontSize={21} fontWeight="bold" fill="#000" fontFamily={FONT}>Radial Distance x [m]</text>
    </svg>
  );
}
